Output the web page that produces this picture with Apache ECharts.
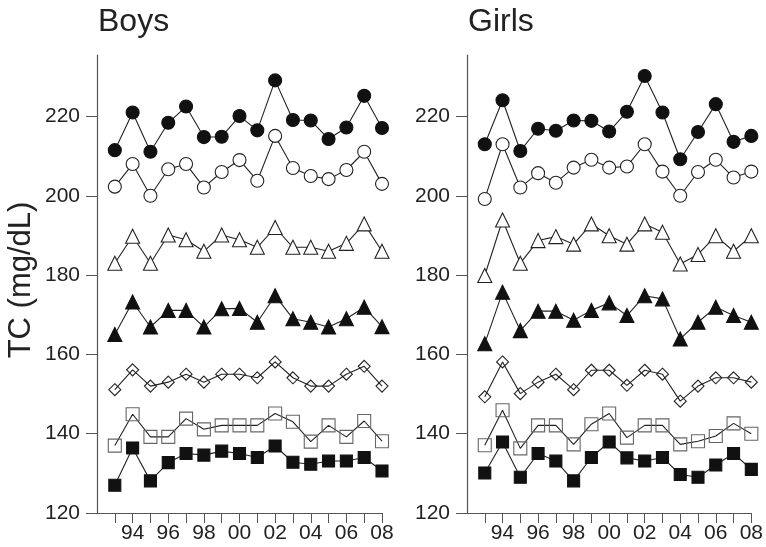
<!DOCTYPE html>
<html>
<head>
<meta charset="utf-8">
<script src="https://cdn.jsdelivr.net/npm/echarts@6/dist/echarts.min.js"></script>
<style>
  html, body { margin: 0; padding: 0; background: #fff; }
  #main { width: 766px; height: 547px; }
</style>
</head>
<body>
<div id="main"></div>
<script>
// survey years (x axis), 1993 - 2008
var years = [1993, 1994, 1995, 1996, 1997, 1998, 1999, 2000, 2001, 2002, 2003, 2004, 2005, 2006, 2007, 2008];
var yTicks = [120, 140, 160, 180, 200, 220];
var xLabelYears = [1994, 1996, 1998, 2000, 2002, 2004, 2006, 2008];

// Boys, TC (mg/dL), top curve to bottom curve
var boysFilledCircle  = [211.5, 221.0, 211.1, 218.4, 222.5, 214.8, 214.9, 220.1, 216.5, 229.1, 219.1, 219.0, 214.3, 217.2, 225.2, 217.1];
var boysOpenCircle    = [202.3, 208.0, 200.0, 206.7, 208.0, 202.1, 206.0, 209.0, 203.8, 215.1, 207.0, 205.0, 204.2, 206.5, 211.1, 203.0];
var boysOpenTriangle  = [183.0, 189.8, 183.0, 190.1, 188.9, 186.0, 190.1, 188.9, 187.0, 192.0, 187.0, 187.0, 186.0, 188.0, 192.9, 186.0];
var boysFilledTriangle= [165.0, 173.2, 166.9, 171.1, 171.1, 166.9, 171.5, 171.6, 168.1, 174.8, 169.0, 168.1, 166.9, 169.0, 171.9, 167.0];
var boysDiamond       = [151.1, 156.1, 152.0, 153.0, 155.0, 153.0, 155.0, 155.0, 154.1, 158.1, 154.1, 152.0, 152.0, 155.0, 157.0, 152.0];
var boysOpenSquare    = [137.0, 144.9, 139.2, 139.2, 143.8, 141.1, 142.1, 142.1, 142.1, 145.1, 143.0, 138.0, 142.1, 139.2, 143.2, 138.1];
var boysFilledSquare  = [127.0, 136.4, 128.1, 132.7, 135.0, 134.6, 135.6, 135.0, 134.0, 136.9, 132.8, 132.3, 133.1, 133.1, 134.0, 130.6];

// Girls
var girlsFilledCircle  = [213.0, 224.1, 211.3, 216.9, 216.4, 219.0, 218.9, 216.2, 221.2, 230.2, 221.0, 209.2, 216.1, 223.1, 213.6, 215.1];
var girlsOpenCircle    = [199.2, 213.0, 202.1, 205.7, 203.3, 207.1, 209.1, 207.1, 207.4, 213.0, 206.1, 200.0, 206.0, 209.1, 204.6, 206.1];
var girlsOpenTriangle  = [179.9, 193.9, 183.0, 188.7, 189.7, 187.8, 192.9, 189.9, 187.8, 192.9, 190.8, 182.8, 185.2, 189.9, 186.0, 189.9];
var girlsFilledTriangle= [162.7, 175.7, 166.0, 170.9, 170.9, 168.6, 171.1, 173.0, 169.8, 174.8, 174.0, 163.9, 168.1, 171.9, 169.8, 168.1];
var girlsDiamond       = [149.3, 158.1, 150.1, 153.0, 155.0, 151.1, 156.0, 156.0, 152.2, 156.0, 155.0, 148.2, 152.0, 154.1, 154.1, 153.0];
var girlsOpenSquare    = [137.1, 145.9, 136.3, 142.1, 142.1, 137.3, 142.4, 145.1, 139.0, 142.1, 142.1, 137.3, 138.1, 139.4, 142.6, 140.0];
var girlsFilledSquare  = [130.1, 137.9, 129.0, 135.0, 133.1, 128.1, 134.0, 137.9, 133.9, 133.1, 134.0, 129.7, 129.0, 132.1, 135.0, 131.0];

var FONT = 'Liberation Sans, Arial, Helvetica, sans-serif';
var AXIS_COLOR = '#555';

// marker look for each curve
var markers = [
    { symbol: 'circle',   size: 13, fill: '#111',        border: '#111' },
    { symbol: 'circle',   size: 13, fill: '#fff',        border: '#222' },
    { symbol: 'triangle', size: 14, fill: '#fff',        border: '#222' },
    { symbol: 'triangle', size: 14, fill: '#111',        border: '#111' },
    { symbol: 'diamond',  size: 12, fill: 'rgba(0,0,0,0)', border: '#222' },
    { symbol: 'rect',     size: 13, fill: 'rgba(0,0,0,0)', border: '#666' },
    { symbol: 'rect',     size: 12, fill: '#111',        border: '#111' }
];

var boysSets = [boysFilledCircle, boysOpenCircle, boysOpenTriangle, boysFilledTriangle, boysDiamond, boysOpenSquare, boysFilledSquare];
var girlsSets = [girlsFilledCircle, girlsOpenCircle, girlsOpenTriangle, girlsFilledTriangle, girlsDiamond, girlsOpenSquare, girlsFilledSquare];

function pairs(vals) {
    var out = [];
    for (var i = 0; i < years.length; i++) {
        out.push([years[i], vals[i]]);
    }
    return out;
}

function makeSeries(sets, idx) {
    var list = [];
    for (var i = 0; i < sets.length; i++) {
        var m = markers[i];
        list.push({
            type: 'line',
            xAxisIndex: idx,
            yAxisIndex: idx,
            data: pairs(sets[i]),
            symbol: m.symbol,
            symbolSize: m.size,
            showAllSymbol: true,
            lineStyle: { color: '#222', width: 1.1 },
            itemStyle: { color: m.fill, borderColor: m.border, borderWidth: 1.1, opacity: 1 },
            emphasis: { disabled: true },
            z: 2
        });
    }
    return list;
}

function xAxisFor(idx) {
    return {
        type: 'value',
        gridIndex: idx,
        min: 1992,
        max: 2008,
        interval: 1,
        splitLine: { show: false },
        axisLine: { lineStyle: { color: AXIS_COLOR, width: 1.2 } },
        axisTick: { inside: false, length: 10, lineStyle: { color: AXIS_COLOR, width: 1 }, customValues: years },
        axisLabel: {
            customValues: xLabelYears,
            margin: 10,
            color: '#222',
            fontFamily: FONT,
            fontSize: 21,
            formatter: function (v) { return String(v).slice(2); }
        }
    };
}

function yAxisFor(idx) {
    return {
        type: 'value',
        gridIndex: idx,
        min: 120,
        max: 235.5,
        interval: 20,
        splitLine: { show: false },
        axisLine: { show: true, lineStyle: { color: AXIS_COLOR, width: 1.2 } },
        axisTick: { show: true, length: 11, lineStyle: { color: AXIS_COLOR, width: 1 }, customValues: yTicks },
        axisLabel: {
            customValues: yTicks,
            margin: 17,
            color: '#222',
            fontFamily: FONT,
            fontSize: 21
        }
    };
}

var myChart = echarts.init(document.getElementById('main'), null, { renderer: 'canvas' });

var option = {
    animation: false,
    backgroundColor: '#fff',
    title: [
        { text: 'Boys', left: 93, top: 1, textStyle: { fontFamily: FONT, fontSize: 32, fontWeight: 'normal', color: '#222' } },
        { text: 'Girls', left: 463, top: 1, textStyle: { fontFamily: FONT, fontSize: 32, fontWeight: 'normal', color: '#222' } }
    ],
    graphic: [{
        type: 'text',
        x: 21,
        y: 280,
        rotation: Math.PI / 2,
        style: {
            text: 'TC (mg/dL)',
            fontFamily: FONT,
            fontSize: 31,
            fill: '#222',
            align: 'center',
            verticalAlign: 'middle'
        }
    }],
    grid: [
        { left: 97, right: 384, top: 55, bottom: 34 },
        { left: 467, right: 14, top: 55, bottom: 34 }
    ],
    xAxis: [xAxisFor(0), xAxisFor(1)],
    yAxis: [yAxisFor(0), yAxisFor(1)],
    series: makeSeries(boysSets, 0).concat(makeSeries(girlsSets, 1))
};

myChart.setOption(option);
</script>
</body>
</html>
